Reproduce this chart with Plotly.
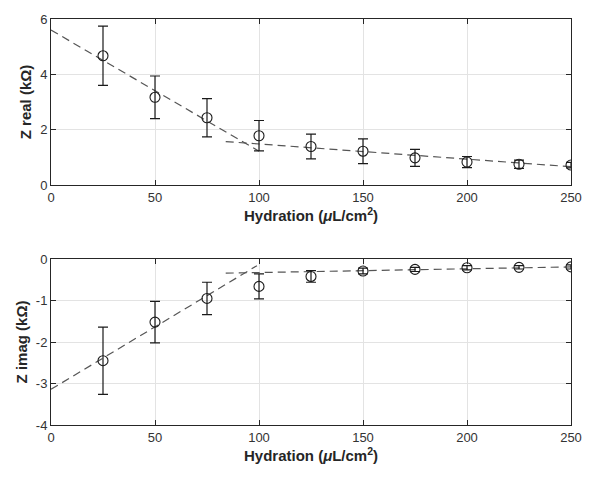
import plotly.graph_objects as go
from plotly.subplots import make_subplots

hydration = [25, 50, 75, 100, 125, 150, 175, 200, 225, 250]
z_real = [4.67, 3.17, 2.43, 1.78, 1.39, 1.22, 0.98, 0.83, 0.75, 0.72]
z_real_err = [1.07, 0.77, 0.69, 0.55, 0.45, 0.45, 0.31, 0.20, 0.15, 0.10]
z_imag = [-2.45, -1.52, -0.95, -0.66, -0.42, -0.29, -0.25, -0.21, -0.20, -0.19]
z_imag_err = [0.81, 0.50, 0.39, 0.30, 0.14, 0.07, 0.05, 0.05, 0.04, 0.05]

real_fit1_x = [0, 100]
real_fit1_y = [5.6, 1.22]
real_fit2_x = [84, 250]
real_fit2_y = [1.57, 0.66]
imag_fit1_x = [0, 99]
imag_fit1_y = [-3.14, -0.16]
imag_fit2_x = [84, 250]
imag_fit2_y = [-0.34, -0.19]

x_ticks = [0, 50, 100, 150, 200, 250]
real_ticks = [0, 2, 4, 6]
imag_ticks = [-4, -3, -2, -1, 0]
imag_tick_labels = ["-4", "-3", "-2", "-1", "0"]

fig = make_subplots(rows=2, cols=1, vertical_spacing=0.1)

dash_style = dict(color="#555555", width=1.2, dash="8px,5px")
err_style = dict(color="#1a1a1a", thickness=1.2, width=5)
mk = dict(symbol="circle-open", size=10, color="#1a1a1a", line=dict(width=1.1))

for fx, fy in [(real_fit1_x, real_fit1_y), (real_fit2_x, real_fit2_y)]:
    fig.add_trace(go.Scatter(x=fx, y=fy, mode="lines", line=dash_style,
                             showlegend=False, hoverinfo="skip"), row=1, col=1)
fig.add_trace(go.Scatter(x=hydration, y=z_real, mode="markers", marker=mk,
                         error_y=dict(type="data", array=z_real_err, visible=True, **err_style),
                         showlegend=False), row=1, col=1)

for fx, fy in [(imag_fit1_x, imag_fit1_y), (imag_fit2_x, imag_fit2_y)]:
    fig.add_trace(go.Scatter(x=fx, y=fy, mode="lines", line=dash_style,
                             showlegend=False, hoverinfo="skip"), row=2, col=1)
fig.add_trace(go.Scatter(x=hydration, y=z_imag, mode="markers", marker=mk,
                         error_y=dict(type="data", array=z_imag_err, visible=True, **err_style),
                         showlegend=False), row=2, col=1)

FONT = "Liberation Sans, Arial"
axis_common = dict(showline=True, mirror="ticks", linecolor="#262626", linewidth=1,
                   ticks="inside", ticklen=5, tickcolor="#262626",
                   showgrid=True, gridcolor="#e3e3e3", gridwidth=1, zeroline=False,
                   tickfont=dict(family=FONT, size=13, color="#333333"))
title_font = dict(family=FONT, size=15, color="#262626")

xtitle = "<b>Hydration (<i>μ</i>L/cm<sup>2</sup>)</b>"
for r in (1, 2):
    fig.update_xaxes(range=[0, 250], tickvals=x_ticks, row=r, col=1,
                     title=dict(text=xtitle, font=title_font, standoff=6),
                     **axis_common)

fig.update_yaxes(range=[0, 6], tickvals=real_ticks, row=1, col=1,
                 title=dict(text="<b>Z real (kΩ)</b>", font=title_font, standoff=4),
                 **axis_common)
fig.update_yaxes(range=[-4, 0], tickvals=imag_ticks, ticktext=imag_tick_labels, row=2, col=1,
                 title=dict(text="<b>Z imag (kΩ)</b>", font=title_font, standoff=4),
                 **axis_common)

fig.update_layout(
    width=594, height=480,
    margin=dict(l=51, r=15, t=14, b=55),
    paper_bgcolor="white", plot_bgcolor="white",
    font=dict(family=FONT, color="#262626"),
)
fig.layout.yaxis.domain = [0.5912, 1.0]
fig.layout.yaxis2.domain = [0.0, 0.4088]

fig.write_html("out.html")
